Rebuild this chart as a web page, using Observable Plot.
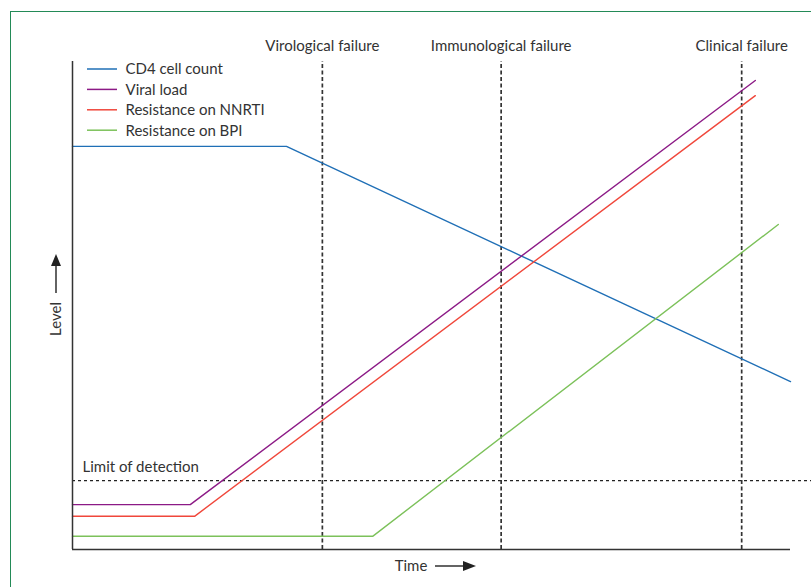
<!DOCTYPE html>
<html>
<head>
<meta charset="utf-8">
<script src="https://cdn.jsdelivr.net/npm/d3@7"></script>
<script src="https://cdn.jsdelivr.net/npm/@observablehq/plot@0.6"></script>
<style>
  html, body { margin: 0; padding: 0; background: #fff; overflow: hidden; }
  #wrap { position: relative; width: 811px; height: 587px; overflow: hidden; }
  #frame { position: absolute; left: 10px; top: 11px; width: 1200px; height: 1200px; border: 1px solid #238a57; box-sizing: border-box; }
  #chart { position: absolute; left: 0; top: 0; }
  svg text { font-family: Lato, "Open Sans", sans-serif; }
</style>
</head>
<body>
<div id="wrap"><div id="frame"></div><div id="chart"></div></div>
<script>
// Series breakpoints (x = time, y = level)
const seriesNames = ["CD4 cell count", "Viral load", "Resistance on NNRTI", "Resistance on BPI"];
const seriesColors = ["#1f6fb6", "#8c1a86", "#f0473b", "#7cc15a"];
const cd4Time = [0, 29.8, 100];
const cd4Level = [82.6, 82.6, 34.4];
const viralTime = [0, 16.4, 95.1];
const viralLevel = [9.2, 9.2, 96.1];
const nnrtiTime = [0, 17.0, 95.1];
const nnrtiLevel = [6.8, 6.8, 93.0];
const bpiTime = [0, 41.8, 98.3];
const bpiLevel = [2.7, 2.7, 66.6];

const failureNames = ["Virological failure", "Immunological failure", "Clinical failure"];
const failureTimes = [34.8, 59.7, 93.2];
const limitOfDetection = 14.1;

const seriesTimes = [cd4Time, viralTime, nnrtiTime, bpiTime];
const seriesLevels = [cd4Level, viralLevel, nnrtiLevel, bpiLevel];
const lineData = seriesNames.flatMap((name, i) =>
  seriesTimes[i].map((t, j) => ({series: name, time: t, level: seriesLevels[i][j]})));
const failures = failureNames.map((name, i) => ({name, time: failureTimes[i]}));

const textColor = "#333";
const fs = 15;

const plot = Plot.plot({
  width: 811,
  height: 587,
  marginLeft: 72,
  marginRight: 21,
  marginTop: 61,
  marginBottom: 38,
  x: {domain: [0, 100], axis: null},
  y: {domain: [0, 100], axis: null},
  color: {domain: seriesNames, range: seriesColors},
  style: {fontSize: fs + "px", color: textColor, background: "transparent", overflow: "visible"},
  marks: [
    // limit of detection
    Plot.ruleY([limitOfDetection], {x1: 0, x2: 103, stroke: "#222", strokeWidth: 1.2, strokeDasharray: "3,3", clip: false}),
    Plot.text([limitOfDetection], {x: 0, y: d => d, text: () => "Limit of detection", textAnchor: "start", dx: 10, dy: -14, fill: textColor, fontSize: fs}),
    // failure markers
    Plot.ruleX(failures, {x: "time", y1: 0, y2: 100, stroke: "#333", strokeWidth: 1.7, strokeDasharray: "4,2.5"}),
    Plot.text(failures, {x: "time", y: 100, text: "name", dy: -15, fill: textColor, fontSize: fs}),
    // series
    Plot.line(lineData, {x: "time", y: "level", z: "series", stroke: "series", strokeWidth: 1.4}),
    // axes
    Plot.ruleX([0], {y1: 0, y2: 100, stroke: "#333", strokeWidth: 1.5}),
    Plot.ruleY([0], {x1: 0, x2: 100, stroke: "#333", strokeWidth: 1.5}),
    // legend
    ...seriesNames.map((name, i) =>
      Plot.text([name], {frameAnchor: "top-left", text: d => d, dx: 53, dy: 8 + i * 20.4, textAnchor: "start", lineAnchor: "middle", fill: textColor, fontSize: fs}))
  ]
});

document.getElementById("chart").appendChild(plot);

// decorations: legend swatches, axis labels with arrows
const svg = d3.select(plot);
const g = svg.append("g");
seriesNames.forEach((n, i) => {
  g.append("line").attr("x1", 87).attr("x2", 117)
    .attr("y1", 69 + i * 20.4).attr("y2", 69 + i * 20.4)
    .attr("stroke", seriesColors[i]).attr("stroke-width", 1.5);
});
// Time label
g.append("text").attr("x", 411).attr("y", 566).attr("text-anchor", "middle").attr("dy", "0.35em")
  .attr("fill", textColor).style("font-size", fs + "px").text("Time");
g.append("line").attr("x1", 435).attr("x2", 466).attr("y1", 566).attr("y2", 566).attr("stroke", "#222").attr("stroke-width", 1.4);
g.append("path").attr("d", "M463,561 L476,566 L463,571 Z").attr("fill", "#222");
// Level label
g.append("text").attr("transform", "translate(56,319) rotate(-90)").attr("text-anchor", "middle").attr("dy", "0.35em")
  .attr("fill", textColor).style("font-size", fs + "px").text("Level");
g.append("line").attr("x1", 56).attr("x2", 56).attr("y1", 293).attr("y2", 263).attr("stroke", "#222").attr("stroke-width", 1.4);
g.append("path").attr("d", "M51,266 L56,254 L61,266 Z").attr("fill", "#222");
</script>
</body>
</html>
